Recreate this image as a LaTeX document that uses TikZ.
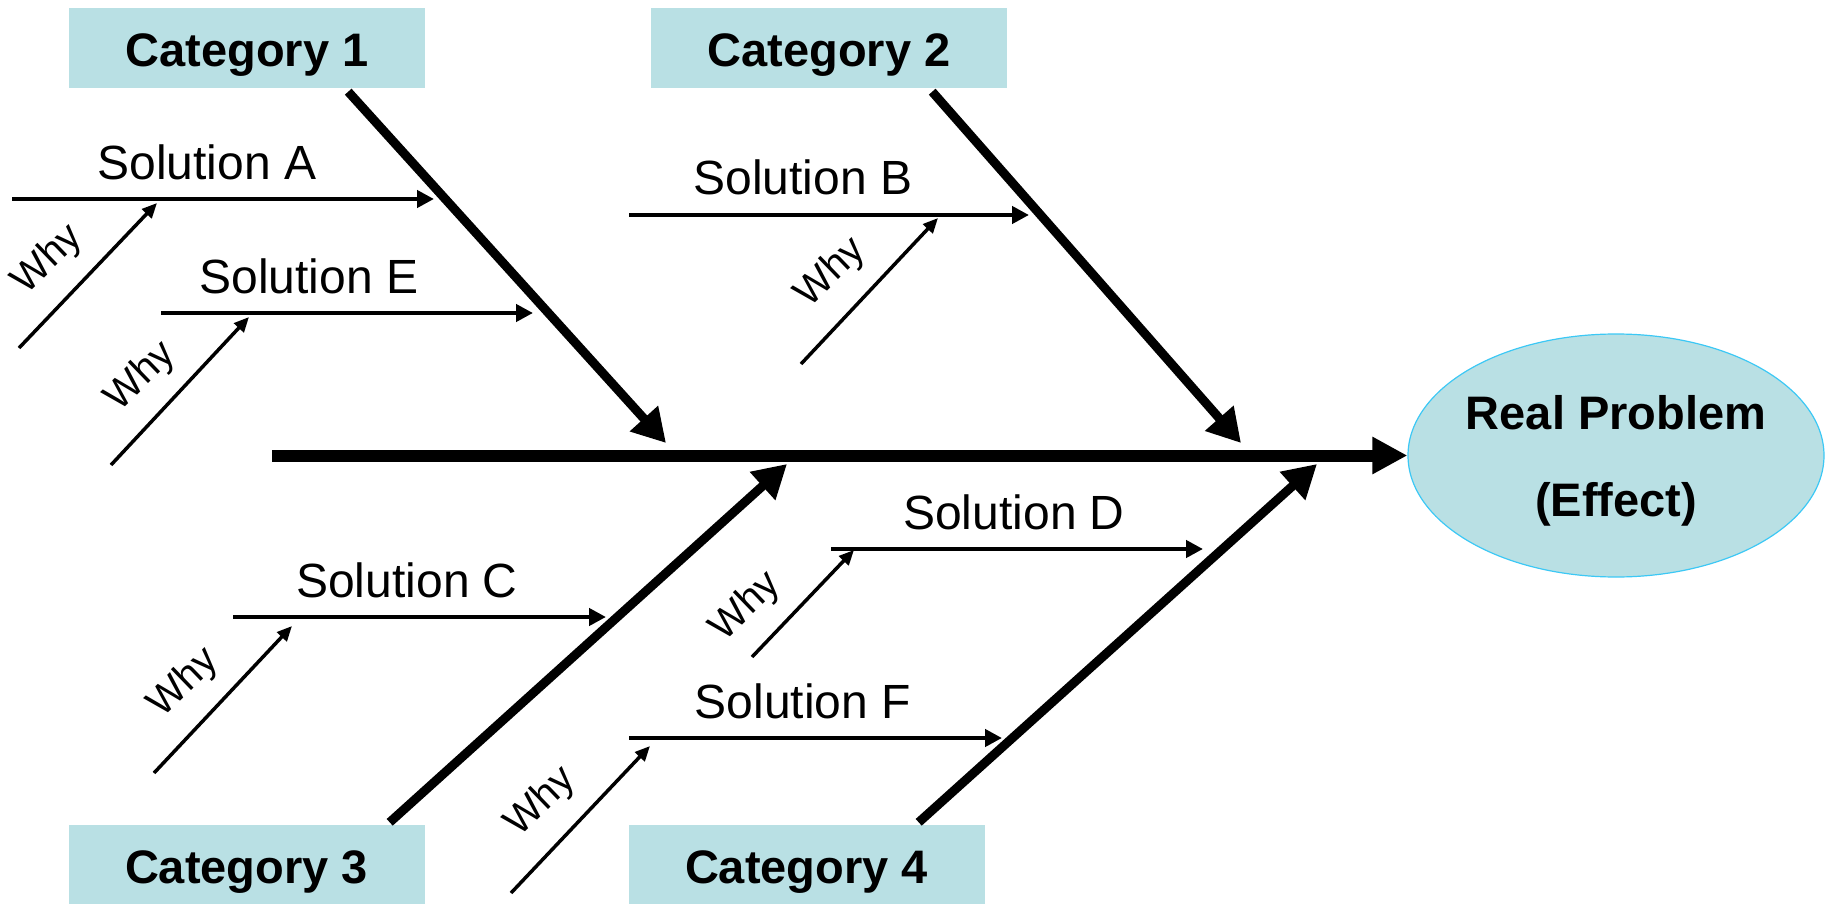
\documentclass[tikz,border=0pt]{standalone}
\usepackage{fontspec}
\setmainfont{Liberation Sans}
\usetikzlibrary{arrows.meta,shapes.geometric}
\definecolor{boxfill}{RGB}{185,224,228}
\definecolor{effline}{RGB}{60,200,245}
\tikzset{
  catbox/.style={fill=boxfill, minimum width=356pt, minimum height=80pt, inner sep=0pt,
    text height=37pt, text depth=0pt, font=\fontsize{47}{56}\selectfont\bfseries},
  effect/.style={ellipse, fill=boxfill, draw=effline, line width=1.2pt,
    minimum width=416pt, minimum height=243pt, inner xsep=-5pt, inner ysep=0pt,
    align=center, text depth=0pt, font=\fontsize{47}{87}\selectfont\bfseries},
  spine/.style={line width=12pt, -{Triangle[length=35pt,width=35pt]}},
  bone/.style={line width=9pt, -{Triangle[length=33pt,width=36pt]}},
  sol/.style={line width=4.5pt, -{Triangle[length=17pt,width=17pt]}},
  why/.style={line width=3.5pt, -{Triangle[length=15pt,width=13pt]}},
  soltext/.style={anchor=base, inner sep=0pt, font=\fontsize{48}{58}\selectfont},
  whytext/.style={rotate=44, inner sep=0pt, font=\fontsize{40}{48}\selectfont},
}
\begin{document}
\begin{tikzpicture}[x=1pt,y=-1pt]
\useasboundingbox (0,0) rectangle (1829,904);

% effect
\node[effect] (eff) at (1616,455.5) {Real Problem\\(Effect)};

% category boxes
\node[catbox] (cat1) at (247,48.5) {Category 1};
\node[catbox] (cat2) at (829,48.5) {Category 2};
\node[catbox] (cat3) at (246.5,864.5) {Category 3};
\node[catbox] (cat4) at (806.5,864.5) {Category 4};

% spine
\coordinate (sp0) at (272,455.5);
\draw[spine] (sp0) -- (eff.west);

% bone tips on spine
\coordinate (t1) at (666,443);
\coordinate (t2) at (1241,443);
\coordinate (t3) at (787,464);
\coordinate (t4) at (1317,464);
\draw[bone] ([xshift=-77pt,yshift=-3pt]cat1.south east) -- (t1);
\draw[bone] ([xshift=-75pt,yshift=-3pt]cat2.south east) -- (t2);
\draw[bone] ([xshift=-35pt,yshift=2pt]cat3.north east) -- (t3);
\draw[bone] ([xshift=-66pt,yshift=2pt]cat4.north east) -- (t4);

% solutions
\coordinate (a0) at (12,199);   \coordinate (a1) at (434,199);
\coordinate (e0) at (161,313);  \coordinate (e1) at (533,313);
\coordinate (b0) at (629,215);  \coordinate (b1) at (1029,215);
\coordinate (c0) at (233,617);  \coordinate (c1) at (606,617);
\coordinate (d0) at (831,549);  \coordinate (d1) at (1203,549);
\coordinate (f0) at (629,738);  \coordinate (f1) at (1002,738);
\draw[sol] (a0) -- (a1);
\draw[sol] (e0) -- (e1);
\draw[sol] (b0) -- (b1);
\draw[sol] (c0) -- (c1);
\draw[sol] (d0) -- (d1);
\draw[sol] (f0) -- (f1);
\node[soltext] (solA) at (207,180) {Solution A};
\node[soltext] (solE) at (309,294) {Solution E};
\node[soltext] (solB) at (803,195) {Solution B};
\node[soltext] (solC) at (407,597) {Solution C};
\node[soltext] (solD) at (1014,529) {Solution D};
\node[soltext] (solF) at (803,718) {Solution F};

% why arrows
\coordinate (wa0) at (19,348);  \coordinate (wa1) at (157,203);
\coordinate (we0) at (111,465); \coordinate (we1) at (249,317);
\coordinate (wb0) at (801,364); \coordinate (wb1) at (938,218);
\coordinate (wc0) at (154,773); \coordinate (wc1) at (292,626);
\coordinate (wd0) at (752,657); \coordinate (wd1) at (854,550);
\coordinate (wf0) at (511,893); \coordinate (wf1) at (650,746);
\draw[why] (wa0) -- (wa1);
\draw[why] (we0) -- (we1);
\draw[why] (wb0) -- (wb1);
\draw[why] (wc0) -- (wc1);
\draw[why] (wd0) -- (wd1);
\draw[why] (wf0) -- (wf1);
\node[whytext] (whyA) at (48,260) {Why};
\node[whytext] (whyE) at (141,377) {Why};
\node[whytext] (whyB) at (831,273) {Why};
\node[whytext] (whyC) at (184,683) {Why};
\node[whytext] (whyD) at (746,607) {Why};
\node[whytext] (whyF) at (541,802) {Why};
\end{tikzpicture}
\end{document}
